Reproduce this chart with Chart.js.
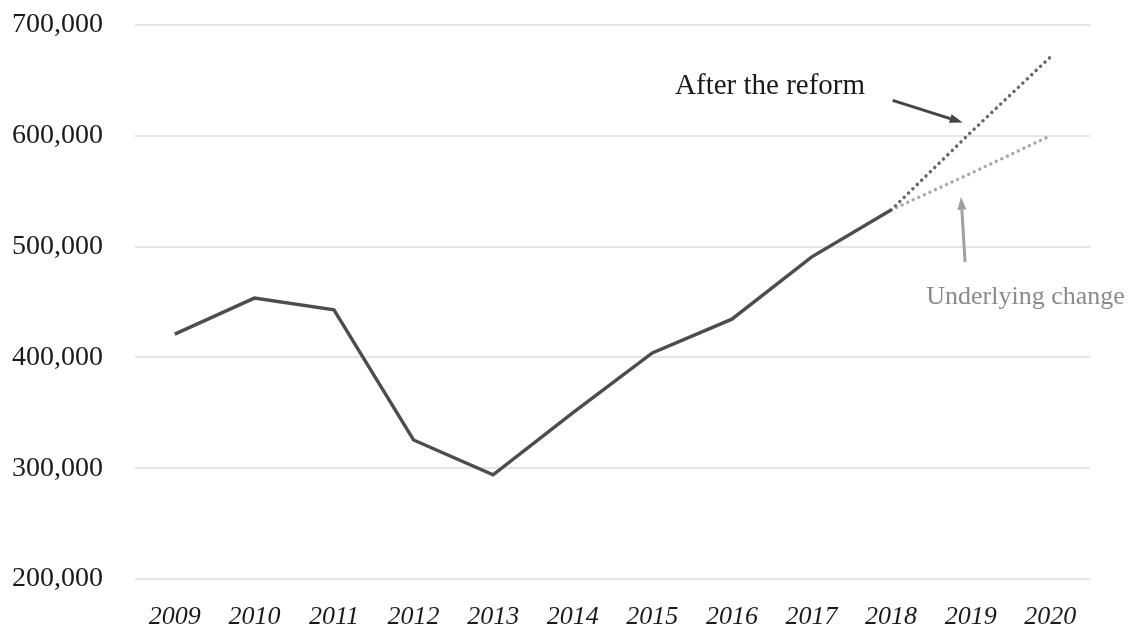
<!DOCTYPE html>
<html>
<head>
<meta charset="utf-8">
<script src="https://cdn.jsdelivr.net/npm/chart.js@4/dist/chart.umd.min.js"></script>
<style>
  html, body { margin: 0; padding: 0; background: #ffffff; }
  #wrap { width: 1145px; height: 630px; position: relative; }
</style>
</head>
<body>
<div id="wrap"><canvas id="c" width="1145" height="630"></canvas></div>
<script>
// ---- data ----
const years = ['2009','2010','2011','2012','2013','2014','2015','2016','2017','2018','2019','2020'];
const actual = [421000, 453500, 443000, 325500, 294000, 350000, 404000, 434500, 490500, 533000, null, null];
const afterReform = [null, null, null, null, null, null, null, null, null, 533000, 603000, 671000];
const underlying = [null, null, null, null, null, null, null, null, null, 533000, 566000, 600000];
const yTicks = [200000, 300000, 400000, 500000, 600000, 700000];

// annotations in data coordinates (category index, value)
const notes = [
  { text: 'After the reform', x: 7.48, y: 645000, color: '#1a1a1a', size: 29 },
  { text: 'Underlying change', x: 10.69, y: 454000, color: '#8a8a8a', size: 26 }
];
const arrows = [
  { from: [9.02, 632000], to: [9.90, 612000], color: '#444444' },
  { from: [9.93, 486000], to: [9.88, 545000], color: '#a0a0a0' }
];

const annotate = {
  id: 'annotate',
  afterDatasetsDraw(chart) {
    const ctx = chart.ctx, xs = chart.scales.x, ys = chart.scales.y;
    ctx.save();
    arrows.forEach(a => {
      const x1 = xs.getPixelForValue(a.from[0]), y1 = ys.getPixelForValue(a.from[1]);
      const x2 = xs.getPixelForValue(a.to[0]), y2 = ys.getPixelForValue(a.to[1]);
      const ang = Math.atan2(y2 - y1, x2 - x1);
      const head = 13, hw = 4.5;
      ctx.strokeStyle = a.color; ctx.fillStyle = a.color; ctx.lineWidth = 3;
      ctx.beginPath();
      ctx.moveTo(x1, y1);
      ctx.lineTo(x2 - head * Math.cos(ang), y2 - head * Math.sin(ang));
      ctx.stroke();
      ctx.beginPath();
      ctx.moveTo(x2, y2);
      ctx.lineTo(x2 - head * Math.cos(ang) + hw * Math.sin(ang), y2 - head * Math.sin(ang) - hw * Math.cos(ang));
      ctx.lineTo(x2 - head * Math.cos(ang) - hw * Math.sin(ang), y2 - head * Math.sin(ang) + hw * Math.cos(ang));
      ctx.closePath();
      ctx.fill();
    });
    notes.forEach(n => {
      ctx.font = n.size + 'px "Liberation Serif", "Times New Roman", serif';
      ctx.fillStyle = n.color;
      ctx.textAlign = 'center';
      ctx.textBaseline = 'middle';
      ctx.fillText(n.text, xs.getPixelForValue(n.x), ys.getPixelForValue(n.y));
    });
    ctx.restore();
  }
};

new Chart(document.getElementById('c'), {
  type: 'line',
  data: {
    labels: years,
    datasets: [
      { label: 'Actual', data: actual, borderColor: '#4d4d4d', borderWidth: 3.4, pointRadius: 0, tension: 0, spanGaps: false },
      { label: 'After the reform', data: afterReform, borderColor: '#666666', borderWidth: 3.4, borderDash: [0.1, 6], borderCapStyle: 'round', pointRadius: 0, tension: 0 },
      { label: 'Underlying change', data: underlying, borderColor: '#aaaaaa', borderWidth: 3.4, borderDash: [0.1, 6], borderCapStyle: 'round', pointRadius: 0, tension: 0 }
    ]
  },
  options: {
    responsive: false,
    animation: false,
    devicePixelRatio: 1,
    layout: { padding: { top: 25, right: 55, bottom: 0, left: 0 } },
    plugins: { legend: { display: false }, tooltip: { enabled: false } },
    scales: {
      x: {
        offset: true,
        grid: { display: false, drawTicks: false },
        border: { display: false },
        afterFit(axis) { axis.height = 51; },
        ticks: {
          padding: 23,
          color: '#1a1a1a',
          font: { family: '"Liberation Serif", "Times New Roman", serif', size: 26, style: 'italic' },
          maxRotation: 0, autoSkip: false
        }
      },
      y: {
        min: yTicks[0], max: yTicks[yTicks.length - 1],
        afterBuildTicks(axis) { axis.ticks = yTicks.map(v => ({ value: v })); },
        afterFit(axis) { axis.width = 135; axis.paddingTop = 0; axis.paddingBottom = 0; },
        grid: { color: '#e6e6e6', lineWidth: 2, drawTicks: false },
        border: { display: false },
        ticks: {
          padding: 32,
          color: '#1a1a1a',
          font: { family: '"Liberation Serif", "Times New Roman", serif', size: 28 },
          callback: v => v.toLocaleString('en-US')
        }
      }
    }
  },
  plugins: [annotate]
});
</script>
</body>
</html>
